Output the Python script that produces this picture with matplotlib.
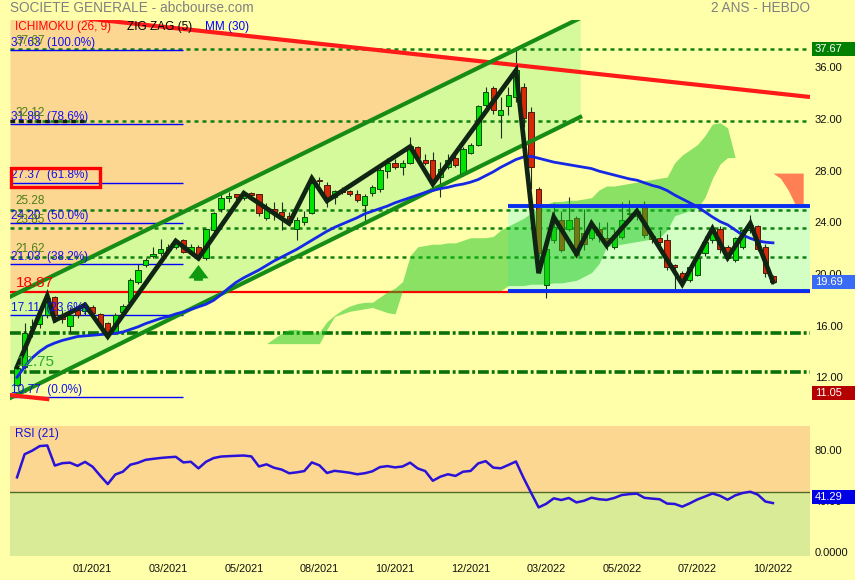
import numpy as np
import matplotlib.pyplot as plt
import matplotlib.transforms as mtransforms
from matplotlib.patches import Rectangle

plt.rcParams['font.family'] = ['Liberation Sans', 'DejaVu Sans']

# ---------------- DONNEES (bougies hebdo, 101 semaines) ----------------
opens = [11.7, 13.1, 16.1, 16.4, 17.1, 18.5, 17.0, 16.3, 17.5, 17.4,
         17.75, 17.2, 16.5, 15.8, 17.35, 18.1, 19.7, 21.0, 21.7, 21.9,
         22.15, 22.4, 22.9, 22.0, 22.4, 21.5, 23.7, 25.3, 26.2, 26.45,
         26.15, 26.55, 26.45, 24.65, 25.35, 25.1, 24.8, 23.8, 24.3, 25.0,
         27.6, 27.2, 26.25, 26.8, 26.7, 26.5, 25.6, 26.55, 26.85, 28.25,
         28.85, 28.6, 28.9, 30.1, 29.15, 29.1, 27.8, 28.55, 29.3, 28.05,
         29.65, 30.3, 33.35, 34.65, 32.6, 33.3, 34.0, 34.8, 32.85, 26.85,
         19.45, 22.9, 24.5, 23.8, 24.6, 23.45, 23.05, 23.8, 23.1, 22.4,
         23.15, 24.9, 24.8, 25.5, 23.2, 23.05, 22.9, 21.0, 20.4, 19.85,
         20.2, 21.9, 22.9, 23.8, 22.4, 21.35, 22.4, 23.7, 24.0, 22.4,
         20.1]
highs = [13.1, 16.5, 16.8, 17.4, 18.6, 18.6, 17.5, 17.75, 17.7, 17.9,
         17.9, 17.3, 16.6, 17.3, 18.0, 20.0, 21.1, 21.5, 22.4, 23.0,
         22.6, 22.85, 23.0, 22.6, 22.5, 23.8, 25.1, 26.5, 26.65, 26.5,
         26.65, 26.6, 26.5, 25.75, 25.9, 25.9, 25.1, 24.7, 25.2, 27.8,
         27.8, 27.4, 26.8, 27.0, 26.8, 26.8, 26.5, 27.2, 28.6, 29.25,
         29.2, 29.1, 30.9, 30.2, 29.6, 29.75, 28.95, 29.6, 29.5, 30.1,
         30.4, 33.4, 34.8, 34.85, 34.0, 34.8, 37.63, 35.05, 33.25, 27.0,
         22.5, 25.75, 25.2, 26.25, 24.8, 25.35, 24.35, 24.35, 24.35, 23.8,
         25.9, 26.0, 25.6, 25.95, 23.5, 23.7, 23.4, 21.1, 20.5, 20.9,
         21.75, 23.2, 23.95, 24.0, 22.5, 23.15, 23.8, 24.85, 24.1, 22.65,
         20.2]
lows = [11.6, 12.9, 15.4, 16.1, 16.9, 16.6, 16.5, 15.8, 16.9, 17.1,
        17.1, 16.2, 15.4, 15.7, 17.2, 18.0, 19.5, 20.8, 21.5, 21.7,
        21.9, 22.2, 21.9, 21.8, 21.5, 21.4, 23.5, 25.1, 25.85, 25.8,
        26.05, 26.1, 24.8, 24.45, 24.45, 23.7, 24.05, 22.9, 24.1, 24.9,
        27.2, 25.45, 25.7, 26.5, 26.3, 25.9, 24.35, 26.3, 26.65, 27.7,
        28.4, 27.95, 28.8, 29.1, 28.7, 27.15, 26.25, 28.4, 28.6, 27.9,
        29.6, 30.2, 33.1, 32.7, 30.8, 32.6, 33.6, 31.7, 26.9, 21.7,
        18.4, 22.7, 22.0, 23.6, 21.6, 22.15, 22.9, 22.8, 22.15, 22.2,
        23.0, 24.4, 24.5, 23.1, 22.7, 22.3, 20.6, 19.15, 19.3, 19.7,
        20.1, 21.7, 22.7, 21.9, 21.4, 21.2, 22.2, 23.5, 22.1, 20.05,
        19.5]
closes = [13.0, 15.7, 16.3, 17.1, 18.4, 17.1, 16.8, 17.1, 17.1, 17.7,
          17.25, 16.3, 15.8, 17.15, 17.8, 19.85, 20.6, 21.35, 21.8, 22.2,
          22.4, 22.7, 22.0, 22.4, 21.75, 23.75, 25.0, 26.15, 26.3, 26.25,
          26.55, 26.4, 25.0, 25.35, 25.1, 24.75, 24.3, 24.5, 24.7, 27.3,
          27.5, 26.0, 26.7, 26.6, 26.45, 26.05, 26.3, 27.05, 28.35, 28.85,
          28.55, 28.85, 30.2, 29.3, 28.9, 27.55, 28.4, 29.15, 28.7, 30.0,
          30.25, 33.3, 34.4, 32.95, 32.95, 34.15, 36.05, 32.35, 28.55, 21.9,
          22.25, 23.95, 22.15, 24.45, 21.75, 22.65, 24.05, 23.3, 22.65, 23.3,
          24.5, 25.0, 25.15, 23.3, 23.0, 22.8, 20.85, 20.85, 19.8, 20.85,
          21.5, 22.8, 23.7, 22.2, 21.5, 23.05, 23.7, 24.1, 22.2, 20.4,
          19.69]

ma30 = [12.3, 13.1, 13.8, 14.3, 14.7, 14.95, 15.15, 15.3, 15.45, 15.5,
        15.55, 15.6, 15.65, 15.7, 15.8, 16.0, 16.2, 16.45, 16.65, 16.85,
        17.0, 17.2, 17.35, 17.55, 17.75, 17.95, 18.25, 18.7, 19.2, 19.65,
        20.0, 20.3, 20.6, 20.95, 21.3, 21.6, 21.9, 22.2, 22.55, 22.9,
        23.25, 23.6, 23.9, 24.15, 24.4, 24.65, 24.95, 25.15, 25.35, 25.55,
        25.8, 26.0, 26.2, 26.4, 26.6, 26.75, 26.9, 27.0, 27.15, 27.25,
        27.4, 27.6, 27.9, 28.2, 28.55, 28.85, 29.15, 29.35, 29.4, 29.25,
        29.1, 28.95, 28.85, 28.75, 28.65, 28.55, 28.45, 28.25, 28.1, 27.95,
        27.8, 27.65, 27.55, 27.35, 27.15, 27.0, 26.75, 26.4, 26.1, 25.8,
        25.5, 25.1, 24.7, 24.35, 24.1, 23.7, 23.3, 23.05, 22.85, 22.75,
        22.7]

zz_idx = [0, 4, 5, 9, 12, 21, 24, 30, 36, 39, 41, 52, 55, 66, 69, 71, 74, 76,
          78, 82, 88, 92, 94, 97, 100]
zz_val = [13.1, 18.6, 16.7, 17.9, 15.45, 22.85, 21.5, 26.55, 24.2, 27.7, 25.95,
          30.15, 27.25, 36.05, 20.35, 24.7, 21.85, 24.2, 22.5, 25.15, 19.5, 23.8,
          21.55, 24.2, 19.69]

# nuage ichimoku (deja decale), partie verte puis partie rouge
kumo_idx = list(range(33, 96))
kumo_a = [14.9, 15.3, 15.7, 16.0, 16.0, 15.9, 15.8, 15.8, 16.6, 17.1,
          17.5, 17.8, 18.0, 18.1, 18.1, 18.5, 18.9, 19.2, 19.7, 21.7,
          22.4, 22.5, 22.6, 22.6, 22.7, 22.7, 22.9, 23.1, 23.1, 23.1,
          23.2, 23.7, 24.0, 24.3, 24.6, 25.0, 25.4, 25.7, 25.9, 25.9,
          26.0, 26.0, 26.1, 26.2, 26.8, 27.1, 27.1, 27.2, 27.3, 27.4,
          27.5, 27.6, 27.7, 27.8, 28.9, 29.5, 29.9, 30.3, 31.0, 31.9,
          32.0, 31.6, 29.3]
kumo_b = [14.9, 14.9, 14.9, 14.9, 14.9, 14.9, 14.9, 14.9, 16.0, 17.0,
          17.2, 17.4, 17.5, 17.6, 17.7, 17.5, 17.3, 17.2, 19.0, 19.0,
          19.0, 19.0, 19.0, 19.0, 19.0, 19.0, 19.0, 19.0, 19.0, 19.0,
          19.0, 19.0, 19.4, 19.4, 19.4, 19.5, 19.5, 19.5, 19.6, 19.6,
          19.7, 19.8, 20.1, 20.4, 21.1, 22.4, 22.5, 22.6, 22.7, 22.8,
          22.9, 23.0, 23.1, 23.7, 24.8, 25.0, 25.2, 25.4, 26.2, 27.7,
          28.8, 29.3, 29.3]
kumo_red_idx = [100, 101, 102, 103, 104]
kumo_red_a = [28.1, 27.7, 26.8, 25.6, 25.6]
kumo_red_b = [28.1, 28.1, 28.1, 28.1, 28.1]

rsi = [61.5, 79.6, 82.4, 86.0, 86.5, 70.7, 72.6, 73.0, 70.5, 73.6,
       69.8, 62.8, 56.2, 63.7, 65.9, 71.4, 72.9, 75.2, 76.0, 76.7,
       77.2, 77.6, 73.2, 73.7, 68.5, 73.7, 76.6, 77.8, 78.1, 78.4,
       78.6, 77.9, 70.0, 71.7, 69.0, 67.6, 64.7, 65.4, 66.4, 73.2,
       70.9, 64.9, 66.6, 65.9, 65.1, 63.9, 64.7, 66.2, 69.5, 70.3,
       69.3, 70.0, 73.0, 68.5, 66.4, 58.8, 62.0, 63.9, 62.6, 65.9,
       66.5, 72.4, 74.2, 69.1, 68.6, 71.2, 73.9, 61.1, 49.4, 37.9,
       40.7, 45.0, 43.7, 45.3, 41.8, 43.1, 45.5, 44.3, 43.8, 45.3,
       47.6, 48.3, 48.7, 45.4, 44.8, 44.3, 40.9, 40.6, 38.5, 41.1,
       44.1, 46.4, 48.8, 47.0, 43.9, 47.3, 49.2, 50.2, 47.9, 42.5,
       41.29]

# lignes tracees (index semaine, prix)
resistance = [(-0.93, 40.71), (104.9, 33.99)]
canal_haut = [(-0.93, 18.53), (74.5, 40.10)]
canal_bas = [(-0.93, 10.69), (74.5, 32.44)]
support_court = [(-0.93, 10.92), (4.0, 10.61)]
rect_debut, rect_haut, rect_bas = 65.0, 25.55, 18.97

fib_niveaux = [37.63, 31.88, 27.37, 24.20, 21.03, 17.11, 10.77]
fib_pct = ['100.0%', '78.6%', '61.8%', '50.0%', '38.2%', '23.6%', '0.0%']
fib_fin = 22.0

niveaux_verts = [37.67, 32.12, 25.28, 23.85, 21.62]
niveaux_tirets_points = [15.70, 12.73]
niveau_rouge = 18.87

prix_ticks = [12, 16, 20, 24, 28, 32, 36]
mois_idx = [10, 20, 30, 40, 50, 60, 70, 80, 90, 100]
mois = ['01/2021', '03/2021', '05/2021', '08/2021', '10/2021', '12/2021',
        '03/2022', '05/2022', '07/2022', '10/2022']

# ---------------- COULEURS ----------------
FOND = '#FFFFAA'
ORANGE = '#FBD792'
VERT_CANAL = '#D4FA9B'
VERT_RECT = '#D3FFC4'
W, H = 855, 580
XMIN, XMAX = -0.93, 104.9
YMIN, YMAX = 10.15, 39.95


def droite(seg, x):
    (x0, y0), (x1, y1) = seg
    return y0 + (y1 - y0) * (np.asarray(x) - x0) / (x1 - x0)


fig = plt.figure(figsize=(W / 100, H / 100), dpi=100, facecolor=FOND)
ax = fig.add_axes([10 / W, 1 - 405 / H, 800 / W, 385 / H])
ax_rsi = fig.add_axes([10 / W, 1 - 555.7 / H, 800 / W, 130 / H])
for a in (ax, ax_rsi):
    a.set_facecolor(FOND)
    a.tick_params(left=False, bottom=False, labelleft=False, labelbottom=False)
    for s in a.spines.values():
        s.set_visible(False)

ax.set_xlim(XMIN, XMAX)
ax.set_ylim(YMIN, YMAX)

# ---------------- ZONES ----------------
xs = np.linspace(XMIN, XMAX, 600)
haut = np.minimum(droite(resistance, xs), YMAX + 1)
bas = droite(canal_haut, xs)
ax.fill_between(xs, bas, haut, where=haut > bas, color=ORANGE, lw=0, zorder=1)

xc = np.linspace(XMIN, canal_haut[1][0], 300)
ax.fill_between(xc, droite(canal_bas, xc), droite(canal_haut, xc),
                color=VERT_CANAL, lw=0, zorder=1.1)
ax.fill_between([rect_debut, XMAX], rect_bas, rect_haut, color=VERT_RECT,
                lw=0, zorder=1.2)

# ---------------- NIVEAUX ----------------
for v in niveaux_verts:
    ax.axhline(v, color='#108010', lw=1.8, ls=(0, (1.6, 1.6)), zorder=2)
for v in niveaux_tirets_points:
    ax.axhline(v, color='#0A700A', lw=2.6, ls=(0, (3.0, 0.8, 0.8, 0.8)), zorder=2)
ax.hlines(niveaux_verts[1], XMIN, 9.2, color='#102010', lw=2.4,
          ls=(0, (1.4, 1.2)), zorder=2.1)
ax.axhline(niveau_rouge, color='#FF0000', lw=1.6, zorder=2)
ax.hlines(fib_niveaux, XMIN, fib_fin, color='#0000FF', lw=1, zorder=2.2)

# ---------------- BOUGIES ----------------
x = np.arange(len(closes))
o, h, l, c = (np.array(v) for v in (opens, highs, lows, closes))
hausse = c >= o
ax.vlines(x, l, h, color='#1E2E1E', lw=0.8, zorder=3)
corps = np.maximum(np.abs(c - o), 0.08)
ax.bar(x[hausse], corps[hausse], bottom=np.minimum(o, c)[hausse], width=0.7,
       color='#00E400', edgecolor='#0B4A0B', lw=0.7, zorder=3.1)
ax.bar(x[~hausse], corps[~hausse], bottom=np.minimum(o, c)[~hausse], width=0.7,
       color='#D42A0A', edgecolor='#4A1A0A', lw=0.7, zorder=3.1)

# ---------------- ICHIMOKU ----------------
ax.fill_between(kumo_idx, kumo_b, kumo_a, color='#19C51E', alpha=0.5, lw=0, zorder=4)
ax.fill_between(kumo_red_idx, kumo_red_a, kumo_red_b, color='#FF0000', alpha=0.5,
                lw=0, zorder=4)

# ---------------- LIGNES ----------------
ax.plot(*zip(*resistance), color='#FF1A1A', lw=3, zorder=5, solid_capstyle='butt')
ax.plot(*zip(*canal_haut), color='#168C16', lw=3, zorder=5)
ax.plot(*zip(*canal_bas), color='#168C16', lw=3, zorder=5)
ax.plot(*zip(*support_court), color='#FF1A1A', lw=3, zorder=5)
ax.hlines([rect_haut, rect_bas], rect_debut, XMAX, color='#0A2EF0', lw=2.8, zorder=5)
ax.plot(x, ma30, color='#1428E6', lw=2, zorder=6)
ax.plot(zz_idx, zz_val, color='#0F2412', lw=3.4, zorder=7, solid_joinstyle='miter')
ax.annotate('', xy=(24, 21.2), xytext=(24, 19.55),
            arrowprops=dict(arrowstyle='simple,head_width=0.9,head_length=0.6,tail_width=0.4',
                            color='#109A10', lw=0, mutation_scale=16), zorder=7)

# ---------------- TEXTES ----------------
for v, p in zip(fib_niveaux, fib_pct):
    ax.annotate(f'{v:.2f}  ({p})', xy=(XMIN, v), xytext=(0.5, 1), textcoords='offset points',
                ha='left', va='bottom', color='#1010F0', fontsize=8.5, zorder=8)
for v in niveaux_verts:
    ax.annotate(f'{v:.2f}', xy=(XMIN, v), xytext=(4, 1.5), textcoords='offset points',
                ha='left', va='bottom', color='#4B7D14', fontsize=8.5, zorder=8)
ax.annotate('12.75', xy=(XMIN, niveaux_tirets_points[1]), xytext=(5, 2),
            textcoords='offset points', ha='left', va='bottom', color='#2FA52F',
            fontsize=11, zorder=8)
ax.annotate(f'{niveau_rouge:.2f}', xy=(XMIN, niveau_rouge), xytext=(4, 2),
            textcoords='offset points', ha='left', va='bottom', color='#FF0000',
            fontsize=11, zorder=8)
ax.add_patch(Rectangle((XMIN + 0.1, fib_niveaux[2] - 0.35), 11.8, 1.47, fill=False,
                       ec='#FF0000', lw=2.4, zorder=9, clip_on=False))

fig.text(10 / W, 1 - 8 / H, 'SOCIETE GENERALE - abcbourse.com', color='#808080',
         fontsize=9.8, va='center', ha='left')
fig.text(810 / W, 1 - 8 / H, '2 ANS - HEBDO', color='#808080', fontsize=9.8,
         va='center', ha='right')
fig.text(15 / W, 1 - 27 / H, 'ICHIMOKU (26, 9)', color='#FF0000', fontsize=8.5, va='center')
fig.text(127 / W, 1 - 27 / H, 'ZIG ZAG (5)', color='#000000', fontsize=8.5, va='center')
fig.text(205 / W, 1 - 27 / H, 'MM (30)', color='#0000FF', fontsize=8.5, va='center')

tr_prix = mtransforms.offset_copy(ax.get_yaxis_transform(), fig=fig, x=0, y=2.7, units='dots')
for v in prix_ticks:
    ax.text(1.006, v, f'{v:.2f}', transform=tr_prix, ha='left', va='center',
            fontsize=8, color='#111111')


def etiquette(axe, v, texte, fc):
    y = axe.transData.transform((0, v))[1] / fig.bbox.height
    fig.add_artist(Rectangle((812 / W, y - 7 / H), 43 / W, 14 / H,
                             transform=fig.transFigure, fc=fc, ec='none'))
    fig.text(815 / W, y, texte, color='white', fontsize=8, va='center', ha='left')


etiquette(ax, niveaux_verts[0], '37.67', '#008000')
etiquette(ax, closes[-1], f'{closes[-1]:.2f}', '#3A6BF5')
etiquette(ax, 11.05, '11.05', '#B40000')

# ---------------- RSI ----------------
ax_rsi.set_xlim(XMIN, XMAX)
ax_rsi.set_ylim(0, 102)
ax_rsi.axhspan(50, 102, color=ORANGE, lw=0, zorder=0)
ax_rsi.axhspan(0, 50, color='#D9EB96', lw=0, zorder=0)
ax_rsi.axhline(50, color='#506C28', lw=1, zorder=1)
ax_rsi.plot(x, rsi, color='#2A12D8', lw=1.8, zorder=3)
ax_rsi.text(5 / 800, 0.94, 'RSI (21)', transform=ax_rsi.transAxes,
            color='#1010E0', fontsize=8.5, va='center', ha='left')
tr_rsi = mtransforms.offset_copy(ax_rsi.get_yaxis_transform(), fig=fig, x=0, y=2.7, units='dots')
for v, t in [(80, '80.00'), (40, '40.00'), (0, '0.0000')]:
    ax_rsi.text(1.006, v, t, transform=tr_rsi, ha='left', va='center', fontsize=8,
                color='#111111')
etiquette(ax_rsi, rsi[-1] + 5, f'{rsi[-1]:.2f}', '#0000E6')

tr_x = mtransforms.blended_transform_factory(ax_rsi.transData, ax_rsi.transAxes)
for i, m in zip(mois_idx, mois):
    ax_rsi.text(i, -0.1, m, transform=tr_x, ha='center', va='center', fontsize=7.8,
                color='#111111')

fig.savefig('out.png', dpi=100, facecolor=FOND)
